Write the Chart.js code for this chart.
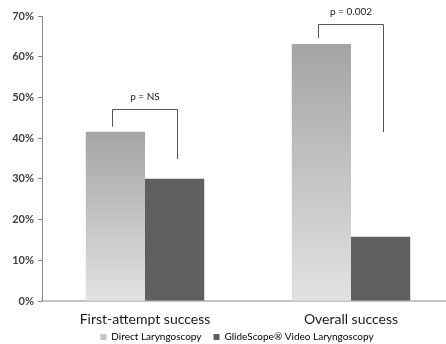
<!DOCTYPE html>
<html>
<head>
<meta charset="utf-8">
<script src="https://cdn.jsdelivr.net/npm/chart.js@4/dist/chart.umd.min.js"></script>
<style>
  html, body { margin: 0; padding: 0; background: #fff; overflow: hidden; }
  #grafica { display: block; }
</style>
</head>
<body>
<canvas id="grafica" width="454" height="344"></canvas>
<script>
// categorias y valores (%)
const categorias = ['First-attempt success', 'Overall success'];
const series = ['Direct Laryngoscopy', 'GlideScope\u00ae Video Laryngoscopy'];
const directa = [41.6, 63.1];
const glidescope = [30.0, 15.8];
const ticksY = [0, 10, 20, 30, 40, 50, 60, 70];

// corchetes de significancia: texto, altura superior y extremos (%)
const textosP = ['p = NS', 'p = 0.002'];
const corcheteArriba = [47.2, 68.1];
const corcheteIzq = [42.8, 64.6];
const corcheteDer = [34.9, 41.5];

Chart.defaults.font.family = 'Lato, "Open Sans", sans-serif';

// degradado por barra, oscuro arriba y claro abajo
function degradado(ctx) {
    const chart = ctx.chart;
    if (!chart.chartArea) return '#c0c0c0';
    const y = chart.scales.y;
    const top = y.getPixelForValue(ctx.raw);
    const bottom = y.getPixelForValue(0);
    const g = chart.ctx.createLinearGradient(0, top, 0, bottom);
    g.addColorStop(0, '#a4a4a4');
    g.addColorStop(1, '#e2e2e2');
    return g;
}

// la leyenda va un poco a la derecha del centro y algo mas arriba
const moverLeyenda = {
    id: 'moverLeyenda',
    afterLayout(chart) {
        const l = chart.legend;
        l.left += 10;
        l.right += 10;
        l.top -= 9;
        l.bottom -= 9;
    }
};

const corchetes = {
    id: 'corchetes',
    afterDatasetsDraw(chart) {
        const ctx = chart.ctx;
        const y = chart.scales.y;
        const barrasA = chart.getDatasetMeta(0).data;
        const barrasB = chart.getDatasetMeta(1).data;
        ctx.save();
        ctx.strokeStyle = '#555';
        ctx.lineWidth = 1;
        for (let i = 0; i < textosP.length; i++) {
            const x1 = Math.round(barrasA[i].x) - 2.5;
            const x2 = Math.round(barrasB[i].x) + 2.5;
            const yTop = Math.round(y.getPixelForValue(corcheteArriba[i])) + 0.5;
            ctx.beginPath();
            ctx.moveTo(x1, y.getPixelForValue(corcheteIzq[i]));
            ctx.lineTo(x1, yTop);
            ctx.lineTo(x2, yTop);
            ctx.lineTo(x2, y.getPixelForValue(corcheteDer[i]));
            ctx.stroke();
            ctx.fillStyle = '#222';
            ctx.font = '10px Lato, sans-serif';
            ctx.textAlign = 'center';
            ctx.textBaseline = 'middle';
            ctx.fillText(textosP[i], (x1 + x2) / 2, yTop - 13);
        }
        ctx.restore();
    }
};

const miGrafica = new Chart(document.getElementById('grafica').getContext('2d'), {
    type: 'bar',
    data: {
        labels: categorias,
        datasets: [{
            label: series[0],
            data: directa,
            backgroundColor: degradado,
            borderWidth: 0
        }, {
            label: series[1],
            data: glidescope,
            backgroundColor: '#5f5f5f',
            borderWidth: 0
        }]
    },
    options: {
        responsive: false,
        animation: false,
        devicePixelRatio: 1,
        categoryPercentage: 0.575,
        barPercentage: 1,
        layout: { padding: { left: 0, right: 0, top: 16, bottom: -17 } },
        plugins: {
            tooltip: { enabled: false },
            legend: {
                position: 'bottom',
                labels: {
                    boxWidth: 6,
                    boxHeight: 6,
                    padding: 12,
                    color: '#333',
                    font: { size: 10 },
                    generateLabels(chart) {
                        return series.map((s, i) => ({
                            text: s,
                            fillStyle: i === 0 ? '#c4c4c4' : '#5f5f5f',
                            strokeStyle: 'transparent',
                            lineWidth: 0,
                            datasetIndex: i
                        }));
                    }
                }
            }
        },
        scales: {
            x: {
                grid: { display: false, drawTicks: false },
                border: { color: '#c4c4c4', width: 2 },
                ticks: { color: '#1a1a1a', font: { size: 14 }, padding: 10 },
                afterFit(scale) { scale.height = 28; }
            },
            y: {
                min: 0,
                max: 70,
                afterBuildTicks(scale) { scale.ticks = ticksY.map(v => ({ value: v })); },
                grid: { drawOnChartArea: false, tickLength: 4, color: '#888' },
                border: { color: '#888', width: 1 },
                ticks: {
                    color: '#404040',
                    font: { size: 11, weight: 'bold' },
                    padding: 4,
                    callback: v => v + '%'
                },
                afterFit(scale) { scale.width = 42; }
            }
        }
    },
    plugins: [corchetes, moverLeyenda]
});
</script>
</body>
</html>
